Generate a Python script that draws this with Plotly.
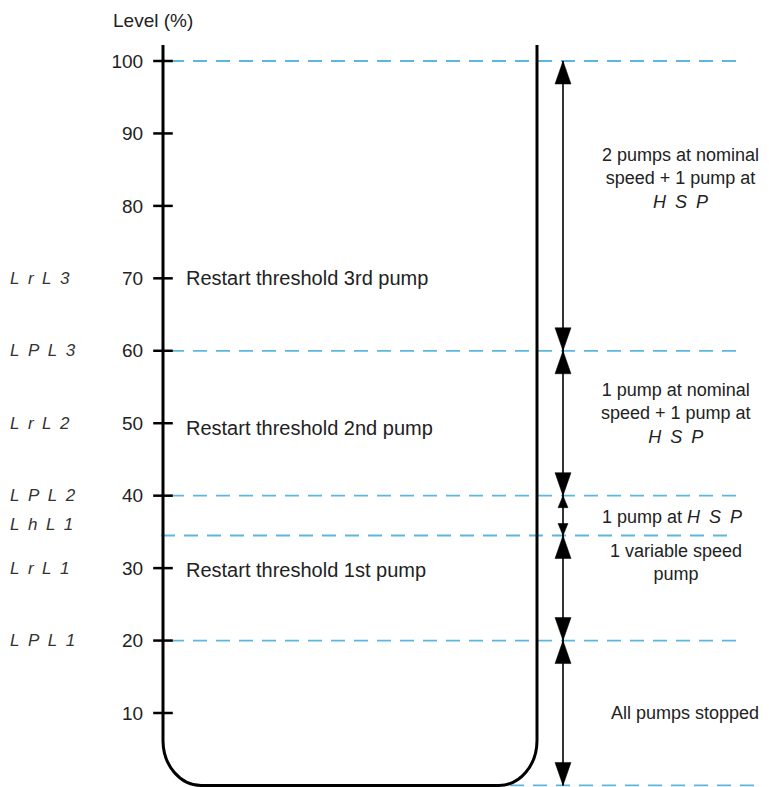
import plotly.graph_objects as go

# --- data ---
tick_levels = [10, 20, 30, 40, 50, 60, 70, 80, 90, 100]

# dashed threshold levels (top of tank down to bottom)
thresholds = [100, 60, 40, 34.5, 20, 0]

# drive parameter codes on the left
param_codes = ["LrL3", "LPL3", "LrL2", "LPL2", "LhL1", "LrL1", "LPL1"]
param_levels = [70, 60, 50, 40, 36, 30, 20]

restart_texts = ["Restart threshold 3rd pump", "Restart threshold 2nd pump", "Restart threshold 1st pump"]
restart_levels = [70, 49.4, 29.8]


def seg(code):
    # seven-segment style code, spaced out and slanted
    return "<i>" + "\u2002".join(code) + "</i>"


zone_texts = [
    "2 pumps at nominal<br>speed + 1 pump at<br>" + seg("HSP"),
    "1 pump at nominal<br>speed + 1 pump at<br>" + seg("HSP"),
    "1 pump at " + seg("HSP"),
    "1 variable speed<br>pump",
    "All pumps stopped",
]
zone_levels = [83.8, 51.4, 37.0, 30.8, 10.0]
zone_x = [680, 676, 672, 676, 685]

# --- geometry: x in page pixels, y in level % ---
W, H = 769, 787
page_off = 8  # default body margin of the html page
px_per_unit = 652 / 90
y_hi = 100 + (61 - page_off) / px_per_unit
y_lo = 100 - (H - 61) / px_per_unit

wall_l, wall_r = 163, 537
tank_top = 102.2
corner_dx, corner_dy = 38, 6.2
arrow_x = 563
dash_start = [170, 170, 170, 161, 170, 510]
dash_end = [738, 738, 738, 728, 738, 769]
dash_color = "#5cb6e0"
ink = "#222222"
font = "Liberation Sans, Arial, sans-serif"

fig = go.Figure()

# dashed threshold lines
dx, dy = [], []
for lvl, a, b in zip(thresholds, dash_start, dash_end):
    dx += [a, b, None]
    dy += [lvl, lvl, None]
fig.add_trace(go.Scatter(x=dx, y=dy, mode="lines", hoverinfo="skip",
                         line=dict(color=dash_color, width=1.8, dash="14px,9px")))

# vertical arrow line
fig.add_trace(go.Scatter(x=[arrow_x, arrow_x], y=[thresholds[0], thresholds[-1]], mode="lines",
                         hoverinfo="skip", line=dict(color="black", width=1.6)))

# tick marks crossing the tank wall
fig.add_trace(go.Scatter(x=[wall_l] * len(tick_levels), y=tick_levels, mode="markers", hoverinfo="skip",
                         marker=dict(symbol="line-ew", size=14, line=dict(color="black", width=2.5))))

# tank outline
k = 0.55
tank_path = (
    f"M {wall_l},{tank_top} L {wall_l},{corner_dy} "
    f"C {wall_l},{corner_dy * (1 - k)} {wall_l + corner_dx * (1 - k)},0 {wall_l + corner_dx},0 "
    f"L {wall_r - corner_dx},0 "
    f"C {wall_r - corner_dx * (1 - k)},0 {wall_r},{corner_dy * (1 - k)} {wall_r},{corner_dy} "
    f"L {wall_r},{tank_top}"
)
shapes = [dict(type="path", path=tank_path, xref="x", yref="y",
               line=dict(color="black", width=3), layer="above")]

# arrowheads at each segment end (pixel-sized triangles)
for top, bot in zip(thresholds[:-1], thresholds[1:]):
    span_px = (top - bot) * px_per_unit
    hw, ln = (8, 23) if span_px > 60 else (5, 12)
    for anchor, sgn in ((top, -1), (bot, 1)):
        shapes.append(dict(
            type="path", xref="x", yref="y", xsizemode="pixel", ysizemode="pixel",
            xanchor=arrow_x, yanchor=anchor,
            path=f"M 0,0 L {-hw},{sgn * ln} L {hw},{sgn * ln} Z",
            fillcolor="black", line=dict(color="black", width=0.5), layer="above"))

annotations = []
annotations.append(dict(x=111, y=100 + (61 - 20) / px_per_unit, xref="x", yref="y", text="Level (%)",
                        showarrow=False, xanchor="left", yanchor="middle",
                        font=dict(family=font, size=19, color=ink)))
for code, lvl in zip(param_codes, param_levels):
    annotations.append(dict(x=8, y=lvl, xref="x", yref="y", text=seg(code), showarrow=False,
                            xanchor="left", yanchor="middle",
                            font=dict(family=font, size=17, color="#333333")))
for txt, lvl in zip(restart_texts, restart_levels):
    annotations.append(dict(x=184, y=lvl, xref="x", yref="y", text=txt, showarrow=False,
                            xanchor="left", yanchor="middle",
                            font=dict(family=font, size=20, color=ink)))
for txt, lvl, xc in zip(zone_texts, zone_levels, zone_x):
    annotations.append(dict(x=xc, y=lvl, xref="x", yref="y", text=txt, showarrow=False,
                            xanchor="center", yanchor="middle", align="center",
                            font=dict(family=font, size=18, color=ink)))

fig.update_layout(
    width=W - page_off, height=H - page_off,
    margin=dict(l=0, r=0, t=0, b=0),
    paper_bgcolor="white", plot_bgcolor="white",
    showlegend=False,
    shapes=shapes,
    annotations=annotations,
    xaxis=dict(range=[page_off, W], visible=False, fixedrange=True),
    yaxis=dict(range=[y_lo, y_hi], anchor="free", position=(wall_l - page_off) / (W - page_off),
               tickvals=tick_levels, ticks="outside", ticklen=16, tickcolor="rgba(0,0,0,0)",
               showgrid=False, zeroline=False, showline=False, fixedrange=True,
               tickfont=dict(family=font, size=19, color=ink)),
)

fig.write_html("out.html")
